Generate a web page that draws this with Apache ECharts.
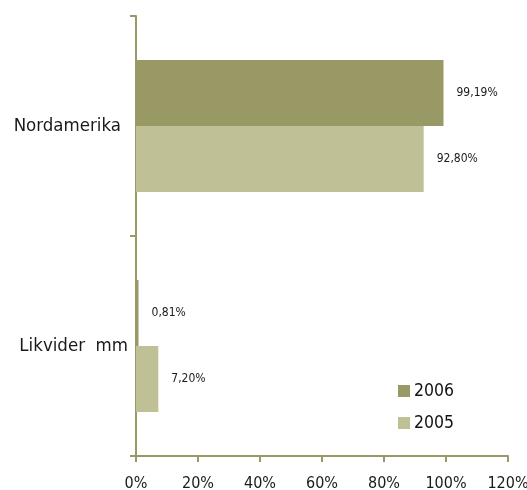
<!DOCTYPE html>
<html><head><meta charset="utf-8">
<script src="https://cdn.jsdelivr.net/npm/echarts@6/dist/echarts.min.js"></script>
<style>html,body{margin:0;padding:0;background:#fff;overflow:hidden}#c{width:527px;height:490px}</style>
</head><body><div id="c"></div>
<script>
const categories = ['Nordamerika', 'Likvider  mm'];
const seriesNames = ['2006', '2005'];
const values2006 = [99.19, 0.81];
const values2005 = [92.80, 7.20];
const xTicks = [0, 20, 40, 60, 80, 100, 120];

const colors = ['#999966', '#c0c096'];
const fmt = v => v.toFixed(2).replace('.', ',') + '%';
const chart = echarts.init(document.getElementById('c'));
const font = 'DejaVu Sans';
const cond = '"DejaVu Sans Condensed", "DejaVu Sans", sans-serif';
chart.setOption({
  animation: false,
  textStyle: {fontFamily: font},
  grid: {left: 136, width: 372, top: 16, bottom: 34, containLabel: false, outerBoundsMode: 'none'},
  legend: {
    orient: 'vertical', left: 398, top: 382, itemWidth: 12, itemHeight: 12, itemGap: 14,
    padding: 0, icon: 'rect',
    textStyle: {fontSize: 17.5, color: '#111', fontFamily: cond, padding: [0, 0, 0, -1]},
    data: seriesNames
  },
  xAxis: {
    type: 'value', min: xTicks[0], max: xTicks[xTicks.length - 1], interval: 20,
    axisLine: {show: true, lineStyle: {color: '#999966', width: 2}},
    axisTick: {show: true, length: 6, lineStyle: {color: '#999966', width: 2}},
    splitLine: {show: false},
    axisLabel: {fontSize: 16, fontFamily: cond, color: '#1a1a1a', margin: 20, formatter: v => v + '%'}
  },
  yAxis: {
    type: 'category', inverse: true,
    data: [
      {value: categories[0], textStyle: {padding: [0, 7, 0, 0]}},
      {value: categories[1]}
    ],
    axisLine: {show: true, lineStyle: {color: '#999966', width: 2}},
    axisTick: {show: true, length: 6, lineStyle: {color: '#999966', width: 2}},
    axisLabel: {fontSize: 18.5, fontFamily: cond, color: '#1a1a1a', margin: 8}
  },
  series: [
    {name: seriesNames[0], type: 'bar', data: values2006, barWidth: '30%', barGap: '0%',
     itemStyle: {color: colors[0]},
     label: {show: true, position: 'right', distance: 13, fontSize: 12, fontFamily: cond, color: '#1a1a1a', formatter: p => fmt(p.value)}},
    {name: seriesNames[1], type: 'bar', data: values2005, barWidth: '30%', barGap: '0%',
     itemStyle: {color: colors[1]},
     label: {show: true, position: 'right', distance: 13, fontSize: 12, fontFamily: cond, color: '#1a1a1a', formatter: p => fmt(p.value)}}
  ]
});
</script></body></html>
